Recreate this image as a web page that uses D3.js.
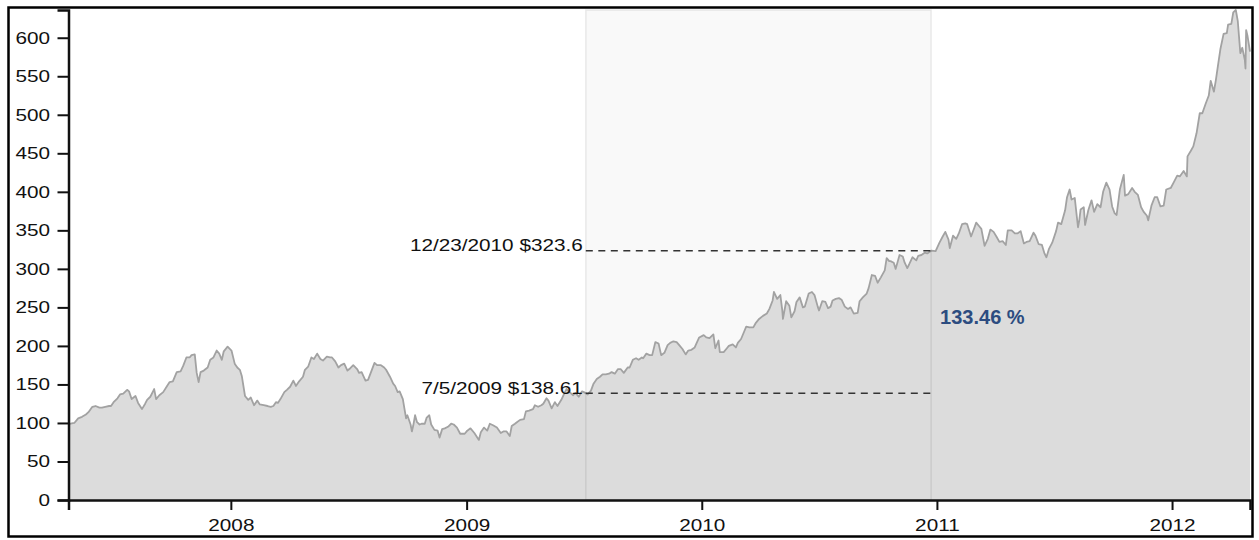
<!DOCTYPE html>
<html>
<head>
<meta charset="utf-8">
<script src="https://cdn.jsdelivr.net/npm/d3@7"></script>
<style>
  body { margin: 0; background: #fff; }
  svg { display: block; font-family: "Liberation Sans", Arial, Helvetica, sans-serif; }
  .axis path, .axis line { stroke: #111; }
  .axis text { fill: #111; font-size: 17px; }
</style>
</head>
<body>
<div id="chart"></div>
<script>
// AAPL close (roughly weekly)
const dates = [
  "2007-04-24","2007-04-27","2007-05-03","2007-05-09","2007-05-15","2007-05-21","2007-05-25","2007-05-31",
  "2007-06-05","2007-06-11","2007-06-15","2007-06-20","2007-06-26","2007-06-29","2007-07-03","2007-07-09",
  "2007-07-13","2007-07-18","2007-07-24","2007-07-27","2007-07-31","2007-08-06","2007-08-10","2007-08-16",
  "2007-08-21","2007-08-24","2007-08-29","2007-09-04","2007-09-07","2007-09-12","2007-09-18","2007-09-24",
  "2007-09-28","2007-10-03","2007-10-09","2007-10-15","2007-10-19","2007-10-24","2007-10-29","2007-11-01",
  "2007-11-06","2007-11-09","2007-11-12","2007-11-15","2007-11-20","2007-11-26","2007-11-30","2007-12-05",
  "2007-12-10","2007-12-14","2007-12-18","2007-12-21","2007-12-27","2008-01-02","2008-01-07","2008-01-11",
  "2008-01-15","2008-01-18","2008-01-23","2008-01-28","2008-02-01","2008-02-06","2008-02-11","2008-02-15",
  "2008-02-21","2008-02-27","2008-03-03","2008-03-07","2008-03-11","2008-03-14","2008-03-18","2008-03-24",
  "2008-03-28","2008-04-02","2008-04-07","2008-04-11","2008-04-16","2008-04-22","2008-04-25","2008-04-30",
  "2008-05-05","2008-05-09","2008-05-14","2008-05-19","2008-05-23","2008-05-29","2008-06-03","2008-06-06",
  "2008-06-11","2008-06-16","2008-06-20","2008-06-25","2008-06-30","2008-07-03","2008-07-09","2008-07-15",
  "2008-07-18","2008-07-22","2008-07-28","2008-08-01","2008-08-06","2008-08-11","2008-08-15","2008-08-21",
  "2008-08-26","2008-08-29","2008-09-04","2008-09-09","2008-09-12","2008-09-16","2008-09-19","2008-09-24",
  "2008-09-29","2008-10-01","2008-10-06","2008-10-08","2008-10-10","2008-10-13","2008-10-16","2008-10-20",
  "2008-10-23","2008-10-28","2008-10-31","2008-11-04","2008-11-07","2008-11-12","2008-11-17","2008-11-20",
  "2008-11-24","2008-11-28","2008-12-03","2008-12-08","2008-12-12","2008-12-17","2008-12-22","2008-12-29",
  "2009-01-02","2009-01-07","2009-01-13","2009-01-20","2009-01-23","2009-01-28","2009-02-02","2009-02-06",
  "2009-02-11","2009-02-17","2009-02-23","2009-02-27","2009-03-04","2009-03-09","2009-03-12","2009-03-17",
  "2009-03-20","2009-03-25","2009-03-31","2009-04-03","2009-04-08","2009-04-14","2009-04-17","2009-04-22",
  "2009-04-27","2009-04-30","2009-05-05","2009-05-08","2009-05-13","2009-05-18","2009-05-22","2009-05-28",
  "2009-06-02","2009-06-05","2009-06-10","2009-06-15","2009-06-19","2009-06-24","2009-06-29","2009-07-02",
  "2009-07-08","2009-07-13","2009-07-17","2009-07-22","2009-07-27","2009-07-31","2009-08-05","2009-08-10",
  "2009-08-14","2009-08-19","2009-08-24","2009-08-28","2009-09-02","2009-09-08","2009-09-11","2009-09-16",
  "2009-09-21","2009-09-25","2009-09-30","2009-10-02","2009-10-07","2009-10-12","2009-10-16","2009-10-21",
  "2009-10-26","2009-10-30","2009-11-04","2009-11-09","2009-11-13","2009-11-18","2009-11-23","2009-11-27",
  "2009-12-02","2009-12-07","2009-12-11","2009-12-16","2009-12-21","2009-12-28","2010-01-04","2010-01-08",
  "2010-01-13","2010-01-19","2010-01-22","2010-01-27","2010-01-29","2010-02-04","2010-02-09","2010-02-12",
  "2010-02-18","2010-02-23","2010-02-26","2010-03-03","2010-03-08","2010-03-11","2010-03-16","2010-03-22",
  "2010-03-26","2010-03-31","2010-04-06","2010-04-12","2010-04-16","2010-04-21","2010-04-23","2010-04-28",
  "2010-05-03","2010-05-06","2010-05-07","2010-05-12","2010-05-17","2010-05-20","2010-05-25","2010-05-28",
  "2010-06-02","2010-06-07","2010-06-10","2010-06-16","2010-06-21","2010-06-25","2010-06-30","2010-07-02",
  "2010-07-07","2010-07-12","2010-07-16","2010-07-20","2010-07-23","2010-07-28","2010-08-02","2010-08-06",
  "2010-08-11","2010-08-16","2010-08-20","2010-08-25","2010-08-31","2010-09-03","2010-09-08","2010-09-14",
  "2010-09-17","2010-09-22","2010-09-27","2010-10-01","2010-10-06","2010-10-12","2010-10-15","2010-10-19",
  "2010-10-21","2010-10-26","2010-10-29","2010-11-04","2010-11-09","2010-11-12","2010-11-16","2010-11-19",
  "2010-11-24","2010-11-30","2010-12-03","2010-12-08","2010-12-13","2010-12-17","2010-12-23","2010-12-30",
  "2011-01-05","2011-01-10","2011-01-14","2011-01-19","2011-01-21","2011-01-26","2011-01-31","2011-02-04",
  "2011-02-09","2011-02-14","2011-02-17","2011-02-23","2011-02-28","2011-03-03","2011-03-08","2011-03-11",
  "2011-03-16","2011-03-21","2011-03-25","2011-03-30","2011-04-04","2011-04-08","2011-04-13","2011-04-18",
  "2011-04-21","2011-04-27","2011-05-02","2011-05-06","2011-05-11","2011-05-16","2011-05-20","2011-05-25",
  "2011-05-31","2011-06-03","2011-06-08","2011-06-13","2011-06-17","2011-06-20","2011-06-24","2011-06-29",
  "2011-07-05","2011-07-08","2011-07-13","2011-07-19","2011-07-22","2011-07-26","2011-07-29","2011-08-03",
  "2011-08-08","2011-08-10","2011-08-12","2011-08-17","2011-08-19","2011-08-24","2011-08-29","2011-09-02",
  "2011-09-07","2011-09-12","2011-09-16","2011-09-21","2011-09-26","2011-09-30","2011-10-04","2011-10-07",
  "2011-10-12","2011-10-18","2011-10-20","2011-10-25","2011-10-31","2011-11-04","2011-11-09","2011-11-14",
  "2011-11-18","2011-11-23","2011-11-25","2011-11-30","2011-12-05","2011-12-09","2011-12-14","2011-12-19",
  "2011-12-23","2011-12-30","2012-01-04","2012-01-09","2012-01-13","2012-01-19","2012-01-24","2012-01-25",
  "2012-01-30","2012-02-03","2012-02-08","2012-02-13","2012-02-17","2012-02-22","2012-02-27","2012-03-01",
  "2012-03-06","2012-03-09","2012-03-13","2012-03-16","2012-03-21","2012-03-26","2012-03-28","2012-04-02",
  "2012-04-05","2012-04-09","2012-04-12","2012-04-16","2012-04-19","2012-04-23","2012-04-24","2012-04-25",
  "2012-04-27","2012-05-01"
];
const closes = [
  98, 99, 100, 106, 108, 111, 114, 121,
  122, 120, 120, 121, 122, 122, 127, 132,
  137, 138, 143, 141, 131, 135, 126, 118,
  125, 130, 134, 144, 131, 136, 140, 148,
  153, 154, 166, 167, 174, 185, 185, 188,
  189, 165, 153, 166, 168, 172, 182, 185,
  194, 190, 182, 193, 199, 194, 177, 172,
  169, 161, 135, 130, 133, 123, 129, 124,
  123, 122, 121, 122, 127, 126, 131, 140,
  143, 147, 155, 148, 154, 160, 169, 173,
  185, 183, 190, 183, 181, 186, 185, 185,
  180, 172, 175, 177, 168, 170, 175, 170,
  165, 166, 155, 156, 167, 178, 175, 175,
  172, 169, 160, 151, 148, 140, 141, 131,
  106, 110, 98, 89, 96, 110, 101, 98,
  99, 99, 107, 110, 98, 91, 90, 81,
  92, 93, 95, 99, 98, 94, 86, 86,
  90, 93, 87, 78, 88, 94, 90, 99,
  97, 94, 87, 89, 89, 83, 96, 99,
  101, 104, 105, 115, 116, 118, 123, 121,
  123, 125, 132, 129, 119, 127, 122, 130,
  139, 144, 140, 136, 139, 134, 141, 140,
  137, 142, 151, 157, 160, 163, 163, 164,
  166, 164, 170, 170, 165, 172, 172, 182,
  184, 182, 185, 184, 190, 188, 188, 205,
  203, 188, 191, 201, 204, 206, 205, 201,
  196, 189, 194, 195, 198, 211, 214, 211,
  210, 215, 197, 207, 192, 192, 197, 200,
  202, 198, 204, 209, 219, 225, 224, 224,
  230, 235, 239, 242, 248, 259, 270, 261,
  266, 246, 235, 258, 252, 237, 245, 257,
  263, 250, 251, 268, 270, 266, 251, 246,
  258, 257, 249, 251, 259, 261, 262, 260,
  251, 248, 250, 242, 243, 258, 263, 268,
  275, 292, 291, 282, 289, 298, 314, 310,
  310, 308, 300, 318, 316, 308, 301, 306,
  315, 311, 317, 318, 321, 320, 323.6, 323,
  334, 342, 348, 338, 327, 343, 339, 346,
  358, 359, 358, 342, 353, 360, 355, 352,
  330, 339, 351, 348, 341, 335, 336, 331,
  350, 350, 346, 346, 349, 333, 335, 336,
  347, 343, 332, 331, 320, 315, 326, 334,
  349, 360, 358, 376, 393, 403, 390, 392,
  354, 363, 377, 380, 357, 376, 389, 374,
  384, 380, 400, 412, 403, 381, 372, 370,
  403, 422, 395, 397, 405, 400, 396, 380,
  374, 369, 363, 382, 393, 393, 381, 382,
  403, 405, 413, 421, 420, 427, 420, 446,
  453, 459, 476, 502, 502, 514, 525, 544,
  530, 545, 568, 585, 605, 606, 617, 618,
  633, 636, 622, 580, 587, 571, 560, 610,
  603, 582
];

const yTicks = [0, 50, 100, 150, 200, 250, 300, 350, 400, 450, 500, 550, 600];
const xTicks = ["2008-01-01", "2009-01-01", "2010-01-01", "2011-01-01", "2012-01-01"];

// brushed range and the two closes shown on it
const brushDates = ["2009-07-05", "2010-12-23"];
const brushCloses = [138.61, 323.6];

const width = 1259, height = 540;
const plotLeft = 68.5, plotRight = 1250, plotTop = 10, plotBottom = 500;
const stretch = 1.22;   // labels in the picture are drawn wide

const parse = d3.timeParse("%Y-%m-%d");
const fmt = d3.timeFormat("%-m/%-d/%Y");
const data = dates.map((d, i) => ({ date: parse(d), close: closes[i] }));

const svg = d3.select("#chart").append("svg")
    .attr("width", width)
    .attr("height", height);

svg.append("rect")
    .attr("x", 8.5).attr("y", 7.5)
    .attr("width", 1244).attr("height", 529)
    .attr("fill", "#fff")
    .attr("stroke", "#000")
    .attr("stroke-width", 2.5);

let x = d3.scaleTime()
    .domain(d3.extent(data, d => d.date))
    .range([plotLeft, plotRight]);

let y = d3.scaleLinear()
    .domain([0, d3.max(data, d => d.close)])
    .range([plotBottom, plotTop]);

let b0 = x(parse(brushDates[0])), b1 = x(parse(brushDates[1]));

// brush selection background
svg.append("rect")
    .attr("x", b0).attr("y", plotTop)
    .attr("width", b1 - b0).attr("height", plotBottom - plotTop)
    .attr("fill", "#f9f9f9");

let area = d3.area()
    .x(d => x(d.date))
    .y0(plotBottom)
    .y1(d => y(d.close));

let line = d3.line()
    .x(d => x(d.date))
    .y(d => y(d.close));

svg.append("path")
    .datum(data)
    .attr("fill", "#dcdcdc")
    .attr("d", area);

svg.append("path")
    .datum(data)
    .attr("fill", "none")
    .attr("stroke", "#a2a2a2")
    .attr("stroke-width", 1.8)
    .attr("stroke-linejoin", "round")
    .attr("d", line);

// selection edges over the area
svg.append("rect")
    .attr("x", b0).attr("y", plotTop)
    .attr("width", b1 - b0).attr("height", plotBottom - plotTop)
    .attr("fill", "none")
    .attr("stroke", "#000")
    .attr("stroke-opacity", 0.08)
    .attr("stroke-width", 1.5);

// dashed guides + labels
brushCloses.forEach(function(v, i) {
    svg.append("line")
        .attr("x1", b0).attr("x2", b1)
        .attr("y1", y(v)).attr("y2", y(v))
        .attr("stroke", "#333")
        .attr("stroke-width", 1.5)
        .attr("stroke-dasharray", "7,5.5");
    svg.append("text")
        .attr("transform", `translate(${b0 - 3},${y(v) + 0.5}) scale(${stretch},1)`)
        .attr("text-anchor", "end")
        .attr("font-size", 17)
        .attr("fill", "#111")
        .text(fmt(parse(brushDates[i])) + " $" + v);
});

let pct = (brushCloses[1] / brushCloses[0] - 1) * 100;
svg.append("text")
    .attr("x", b1 + 9)
    .attr("y", (y(brushCloses[0]) + y(brushCloses[1])) / 2 + 2)
    .attr("font-size", 20)
    .attr("font-weight", "bold")
    .attr("fill", "#2c4c80")
    .text(pct.toFixed(2) + " %");

// axes
let xAxis = svg.append("g")
    .attr("class", "axis")
    .attr("transform", `translate(0,${plotBottom})`)
    .call(d3.axisBottom(x).tickValues(xTicks.map(parse)).tickFormat(d3.timeFormat("%Y")).tickSize(10));
xAxis.select(".domain").attr("stroke-width", 2.5);
xAxis.selectAll(".tick line").attr("stroke-width", 2);
xAxis.selectAll(".tick text")
    .attr("y", 19)
    .attr("transform", `scale(${stretch},1)`);

let yAxis = svg.append("g")
    .attr("class", "axis")
    .attr("transform", `translate(${plotLeft},0)`)
    .call(d3.axisLeft(y).tickValues(yTicks).tickSize(11));
yAxis.select(".domain").attr("stroke-width", 2.5);
yAxis.selectAll(".tick line").attr("stroke-width", 2);
yAxis.selectAll(".tick text")
    .attr("x", -18.5 / stretch)
    .attr("transform", `scale(${stretch},1)`);
</script>
</body>
</html>
